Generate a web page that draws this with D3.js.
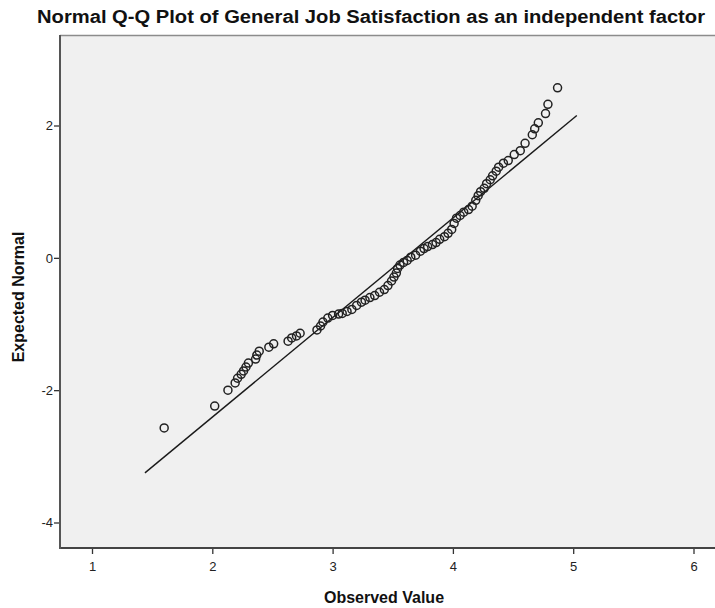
<!DOCTYPE html>
<html><head><meta charset="utf-8">
<script src="https://cdn.jsdelivr.net/npm/d3@7"></script>
<style>
body{margin:0;background:#fff;}
svg{display:block;}
</style></head>
<body>
<svg id="chart" width="715" height="608"></svg>
<script>
const title = "Normal Q-Q Plot of General Job Satisfaction as an independent factor";
const xLabel = "Observed Value";
const yLabel = "Expected Normal";
const xTicks = [1, 2, 3, 4, 5, 6];
const yTicks = [2, 0, -2, -4];
const observed = [1.60,2.02,2.13,2.19,2.21,2.24,2.26,2.28,2.30,2.36,2.37,2.39,2.47,2.51,2.63,2.66,2.70,2.73,
 2.87,2.90,2.92,2.96,3.00,3.05,3.08,3.12,3.16,3.20,3.24,3.27,3.31,3.35,3.39,3.43,3.46,3.49,3.51,3.53,
 3.54,3.56,3.59,3.62,3.65,3.69,3.73,3.76,3.79,3.83,3.86,3.89,3.93,3.96,3.99,4.01,4.03,4.06,4.09,4.13,
 4.16,4.19,4.21,4.23,4.26,4.28,4.31,4.33,4.36,4.38,4.42,4.46,4.51,4.56,4.60,4.66,4.68,4.71,4.77,4.79,4.87];
const expected = [-2.57,-2.24,-2.00,-1.89,-1.82,-1.76,-1.71,-1.65,-1.59,-1.53,-1.47,-1.41,-1.35,-1.30,-1.26,-1.21,-1.18,-1.14,
 -1.09,-1.03,-0.97,-0.91,-0.87,-0.85,-0.84,-0.81,-0.78,-0.72,-0.67,-0.64,-0.60,-0.57,-0.52,-0.48,-0.42,-0.35,-0.29,-0.23,
 -0.16,-0.11,-0.07,-0.04,0.01,0.04,0.10,0.14,0.17,0.20,0.23,0.28,0.32,0.37,0.43,0.52,0.60,0.64,0.69,0.73,
 0.78,0.87,0.94,1.00,1.05,1.12,1.18,1.24,1.31,1.37,1.43,1.47,1.56,1.62,1.73,1.86,1.95,2.04,2.18,2.32,2.57];
const refObserved = [1.44, 5.03];
const refExpected = [-3.25, 2.15];

const svg = d3.select("#chart");
const plot = {left: 60, top: 35, right: 715, bottom: 548};

const x = d3.scaleLinear().domain([1, 6]).range([92, 693.5]);
const y = d3.scaleLinear().domain([-4, 2]).range([522.5, 125.5]);

svg.append("rect")
  .attr("x", plot.left).attr("y", plot.top)
  .attr("width", plot.right - plot.left).attr("height", plot.bottom - plot.top)
  .attr("fill", "#f0f0f0");
svg.append("line").attr("x1", plot.left).attr("x2", plot.right)
  .attr("y1", plot.top + 0.5).attr("y2", plot.top + 0.5)
  .attr("stroke", "#8c8c8c").attr("stroke-width", 1.5);

const fmt = d => String(d);
const xAxis = svg.append("g").attr("transform", `translate(0,${plot.bottom})`)
  .call(d3.axisBottom(x).tickValues(xTicks).tickSize(6).tickSizeOuter(0).tickFormat(fmt));
const yAxis = svg.append("g").attr("transform", `translate(${plot.left},0)`)
  .call(d3.axisLeft(y).tickValues(yTicks).tickSize(6).tickSizeOuter(0).tickFormat(fmt));
[xAxis, yAxis].forEach(g => {
  g.select(".domain").remove();
  g.selectAll(".tick line").attr("stroke", "#333").attr("stroke-width", 1.3);
  g.selectAll(".tick text").attr("fill", "#222")
    .style("font-family", "'Liberation Sans Narrow','Liberation Sans',Arial,sans-serif")
    .style("font-size", "13px");
});
xAxis.selectAll(".tick text").attr("dy", "1.1em");
yAxis.selectAll(".tick text").attr("x", -7);

svg.append("line").attr("x1", plot.left).attr("x2", plot.right)
  .attr("y1", plot.bottom).attr("y2", plot.bottom)
  .attr("stroke", "#444").attr("stroke-width", 2);
svg.append("line").attr("x1", plot.left).attr("x2", plot.left)
  .attr("y1", plot.top).attr("y2", plot.bottom + 1)
  .attr("stroke", "#555").attr("stroke-width", 2);

svg.append("line")
  .attr("x1", x(refObserved[0])).attr("y1", y(refExpected[0]))
  .attr("x2", x(refObserved[1])).attr("y2", y(refExpected[1]))
  .attr("stroke", "#1a1a1a").attr("stroke-width", 1.4);

svg.append("g").selectAll("circle")
  .data(observed.map((o, i) => ({o, e: expected[i]})))
  .join("circle")
  .attr("cx", d => x(d.o)).attr("cy", d => y(d.e)).attr("r", 4)
  .attr("fill", "none").attr("stroke", "#222").attr("stroke-width", 1.5);

svg.append("text").attr("x", 371).attr("y", 23).attr("text-anchor", "middle")
  .style("font-family", "'Liberation Sans',Arial,sans-serif").style("font-size", "18px")
  .style("font-weight", "bold").attr("fill", "#111")
  .attr("textLength", 668).attr("lengthAdjust", "spacingAndGlyphs")
  .text(title);
svg.append("text").attr("x", 384).attr("y", 603).attr("text-anchor", "middle")
  .style("font-family", "'Liberation Sans Narrow','Liberation Sans',Arial,sans-serif").style("font-size", "16px")
  .style("font-weight", "bold").attr("fill", "#111")
  .text(xLabel);
svg.append("text").attr("transform", "translate(24,297) rotate(-90)").attr("text-anchor", "middle")
  .style("font-family", "'Liberation Sans Narrow','Liberation Sans',Arial,sans-serif").style("font-size", "16px")
  .style("font-weight", "bold").attr("fill", "#111")
  .text(yLabel);
</script>
</body></html>
